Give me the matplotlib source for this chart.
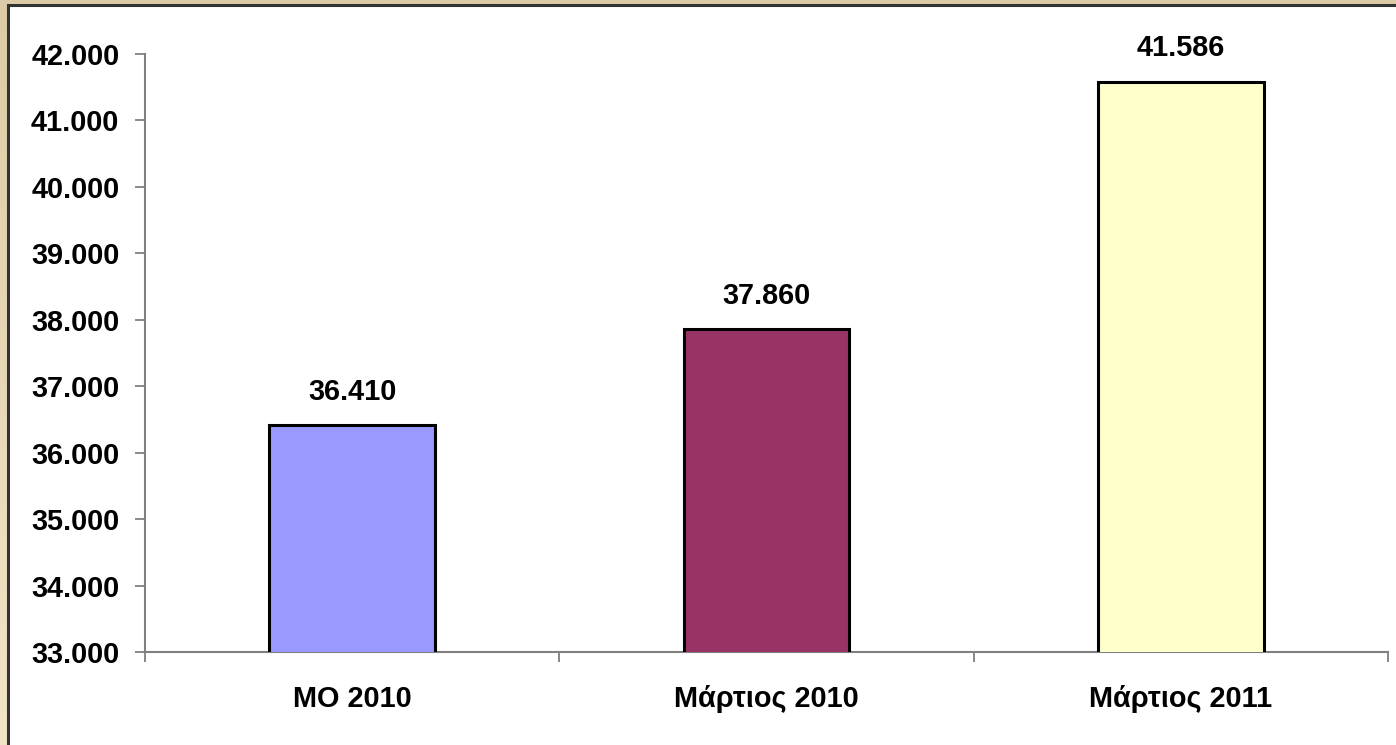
import matplotlib.pyplot as plt
import numpy as np
from matplotlib.patches import Rectangle

# data
categories = ["ΜΟ 2010", "Μάρτιος 2010", "Μάρτιος 2011"]
values = [36410, 37860, 41586]
colors = ["#9999FF", "#993366", "#FFFFCC"]
yticks = list(range(33000, 42001, 1000))

plt.rcParams["font.family"] = ["Liberation Sans", "DejaVu Sans"]
plt.rcParams["font.weight"] = "bold"

FS = 20.8


def fmt(v):
    return f"{v:,.0f}".replace(",", ".")


fig = plt.figure(figsize=(13.96, 7.45), dpi=100)

# beige gradient frame behind a white panel
bg = fig.add_axes([0, 0, 1, 1], zorder=-10)
grad = np.linspace(0, 1, 256).reshape(-1, 1)
bg.imshow(grad, aspect="auto", extent=[0, 1, 0, 1],
          cmap=plt.matplotlib.colors.LinearSegmentedColormap.from_list(
              "beige", ["#F2E4C6", "#DCCBA6"]), origin="lower")
bg.add_patch(Rectangle((8 / 1396, -0.01), 1.0, 1 - 5 / 745 + 0.01,
                       facecolor="white", edgecolor="#333333", linewidth=2.2))
bg.set_xlim(0, 1)
bg.set_ylim(0, 1)
bg.axis("off")

ax = fig.add_axes([145 / 1396, 93 / 745, 1243 / 1396, 598 / 745])
ax.patch.set_alpha(0)

x = np.arange(len(categories))
bars = ax.bar(x, values, width=0.4, color=colors, edgecolor="black",
              linewidth=2.2, zorder=3)

for b, v in zip(bars, values):
    ax.annotate(fmt(v), (b.get_x() + b.get_width() / 2, v),
                xytext=(0, 14), textcoords="offset points",
                ha="center", va="bottom", fontsize=FS, fontweight="bold")

ax.set_xlim(-0.5, len(categories) - 0.5)
ax.set_ylim(33000, 42000)
ax.set_yticks(yticks)
ax.set_yticklabels([fmt(t) for t in yticks])

ax.set_xticks(x)
ax.set_xticklabels(categories)
ax.set_xticks(np.arange(len(categories) + 1) - 0.5, minor=True)
ax.tick_params(axis="x", which="major", length=0, pad=24, labelsize=FS)
ax.tick_params(axis="x", which="minor", length=7.5, width=1.3,
               color="#808080", direction="out")
ax.tick_params(axis="y", length=7.5, width=1.3, color="#808080",
               pad=11, labelsize=FS)

for s in ["top", "right"]:
    ax.spines[s].set_visible(False)
for s in ["left", "bottom"]:
    ax.spines[s].set_color("#808080")
    ax.spines[s].set_linewidth(1.5)

plt.savefig("out.png", dpi=100)
